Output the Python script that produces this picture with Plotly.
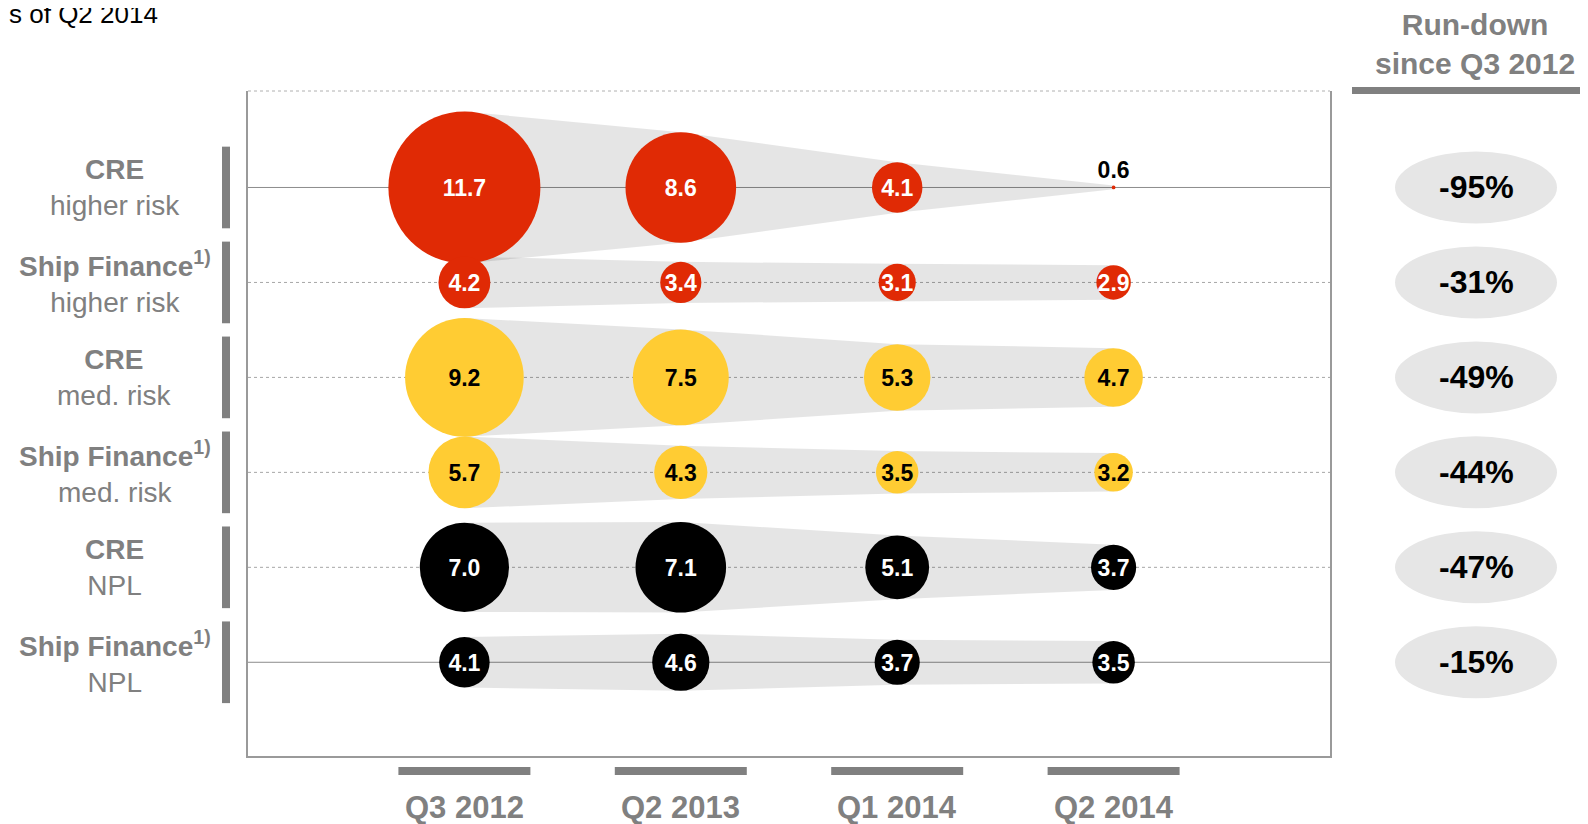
import plotly.graph_objects as go

# ---------------- data ----------------
quarters = ["Q3 2012", "Q2 2013", "Q1 2014", "Q2 2014"]
row_titles = ["CRE", "Ship Finance<sup>1)</sup>", "CRE",
              "Ship Finance<sup>1)</sup>", "CRE", "Ship Finance<sup>1)</sup>"]
row_subtitles = ["higher risk", "higher risk", "med. risk", "med. risk", "NPL", "NPL"]

cre_higher_risk = [11.7, 8.6, 4.1, 0.6]
ship_higher_risk = [4.2, 3.4, 3.1, 2.9]
cre_med_risk = [9.2, 7.5, 5.3, 4.7]
ship_med_risk = [5.7, 4.3, 3.5, 3.2]
cre_npl = [7.0, 7.1, 5.1, 3.7]
ship_npl = [4.1, 4.6, 3.7, 3.5]

rundown_labels = ["-95%", "-31%", "-49%", "-44%", "-47%", "-15%"]

series = [cre_higher_risk, ship_higher_risk, cre_med_risk,
          ship_med_risk, cre_npl, ship_npl]

RED = "#E02A05"
YELLOW = "#FFCC33"
BLACK = "#000000"
GREY = "#808080"
row_colors = [RED, RED, YELLOW, YELLOW, BLACK, BLACK]
label_colors = ["white", "white", "black", "black", "white", "white"]

FONT = "Arial, Liberation Sans, sans-serif"

# ---------------- geometry ----------------
OFF = 8                      # page body margin of the html page
W, H = 1588 - OFF, 824 - OFF  # figure size so that it fits the window
ML, MR, MT, MB = 248 - OFF, 258, 91 - OFF, 68
PLOT_W = W - ML - MR
PLOT_H = H - MT - MB
X_RANGE = [-1.0, 4.0]
Y_RANGE = [5.987, -1.016]  # reversed: first row on top
PX_PER_Y = PLOT_H / (Y_RANGE[0] - Y_RANGE[1])


def diameter_px(v):
    # bubble diameter scale (px)
    return 13.36 * (v - 0.32)


def px_x_to_paper(px):
    # px: page x coordinate
    return (px - OFF - ML) / PLOT_W


def px_y_to_paper(py):
    # py: page y coordinate
    return (H - MB - (py - OFF)) / PLOT_H


cols = list(range(len(quarters)))

fig = go.Figure()

# grey run-down bands (semi-transparent so grid lines show through)
for r, vals in enumerate(series):
    rad = [diameter_px(v) / 2 / PX_PER_Y for v in vals]
    xs = cols + cols[::-1]
    ys = [r - d for d in rad] + [r + d for d in rad[::-1]]
    fig.add_trace(go.Scatter(
        x=xs, y=ys, mode="lines", fill="toself",
        fillcolor="rgba(0,0,0,0.10)", line=dict(width=0),
        hoverinfo="skip", showlegend=False))

# bubbles
for r, vals in enumerate(series):
    sizes = [diameter_px(v) for v in vals]
    fig.add_trace(go.Scatter(
        x=cols, y=[r] * len(vals), mode="markers",
        marker=dict(size=sizes, sizemode="diameter", color=row_colors[r],
                    line=dict(width=0), opacity=1),
        hoverinfo="skip", showlegend=False, cliponaxis=False))

# bubble value labels (slightly nudged to sit optically centred)
for r, vals in enumerate(series):
    sizes = [diameter_px(v) for v in vals]
    small = [s < 20 for s in sizes]
    positions = ["top center" if sm else "middle center" for sm in small]
    tcolors = ["black" if sm else label_colors[r] for sm in small]
    ys = [r + (-4 if sm else 3) / PX_PER_Y for sm in small]
    fig.add_trace(go.Scatter(
        x=cols, y=ys, mode="text",
        text=[f"<b>{v:.1f}</b>" for v in vals],
        textposition=positions,
        textfont=dict(family=FONT, size=23, color=tcolors),
        hoverinfo="skip", showlegend=False, cliponaxis=False))

shapes = []
annotations = []

# horizontal row lines
for r in range(len(series)):
    solid = r in (0, len(series) - 1)
    shapes.append(dict(
        type="line", xref="paper", yref="y", x0=0, x1=1, y0=r, y1=r,
        line=dict(color="#8c8c8c" if solid else "#a6a6a6", width=1,
                  dash="solid" if solid else "dot"),
        layer="below"))

# dotted top border
shapes.append(dict(type="line", xref="paper", yref="paper", x0=0, x1=1, y0=1, y1=1,
                   line=dict(color="#b0b0b0", width=1, dash="dot"), layer="below"))

# left label bars and labels
for r in range(len(series)):
    shapes.append(dict(
        type="rect", xref="paper", yref="y",
        x0=px_x_to_paper(222), x1=px_x_to_paper(230),
        y0=r - 0.43, y1=r + 0.43,
        fillcolor=GREY, line=dict(width=0)))
    annotations.append(dict(
        xref="paper", yref="y", x=px_x_to_paper(114.5), y=r,
        xanchor="center", yanchor="middle", align="center", showarrow=False,
        text=f"<b>{row_titles[r]}</b><br>{row_subtitles[r]}",
        font=dict(family=FONT, size=28, color=GREY)))

# bottom quarter bars and labels
for c, q in enumerate(quarters):
    shapes.append(dict(
        type="rect", xref="x", yref="paper",
        x0=c - 0.305, x1=c + 0.305,
        y0=px_y_to_paper(775), y1=px_y_to_paper(767),
        fillcolor=GREY, line=dict(width=0)))
    annotations.append(dict(
        xref="x", yref="paper", x=c, y=px_y_to_paper(807),
        xanchor="center", yanchor="middle", showarrow=False,
        text=f"<b>{q}</b>",
        font=dict(family=FONT, size=31, color=GREY)))

# right column: header, underline, ellipses with run-down figures
annotations.append(dict(
    xref="paper", yref="paper", x=px_x_to_paper(1475), y=px_y_to_paper(44),
    xanchor="center", yanchor="middle", align="center", showarrow=False,
    text="<b>Run-down</b><br><b>since Q3 2012</b>",
    font=dict(family=FONT, size=30, color=GREY)))
shapes.append(dict(
    type="rect", xref="paper", yref="paper",
    x0=px_x_to_paper(1352), x1=px_x_to_paper(1592),
    y0=px_y_to_paper(94), y1=px_y_to_paper(87),
    fillcolor=GREY, line=dict(width=0)))
for r, lab in enumerate(rundown_labels):
    shapes.append(dict(
        type="circle", xref="paper", yref="y",
        x0=px_x_to_paper(1395), x1=px_x_to_paper(1557),
        y0=r - 36 / PX_PER_Y, y1=r + 36 / PX_PER_Y,
        fillcolor="#e6e6e6", line=dict(width=0)))
    annotations.append(dict(
        xref="paper", yref="y", x=px_x_to_paper(1476), y=r,
        xanchor="center", yanchor="middle", showarrow=False,
        text=f"<b>{lab}</b>",
        font=dict(family=FONT, size=32, color="black")))

# top-left (cropped) note
annotations.append(dict(
    xref="paper", yref="paper", x=px_x_to_paper(OFF - 1), y=px_y_to_paper(31),
    xanchor="left", yanchor="bottom", showarrow=False,
    text="s of Q2 2014",
    font=dict(family=FONT, size=26, color="black")))

fig.update_layout(
    width=W, height=H,
    margin=dict(l=ML, r=MR, t=MT, b=MB, pad=0),
    paper_bgcolor="white", plot_bgcolor="white",
    showlegend=False,
    shapes=shapes, annotations=annotations,
    xaxis=dict(range=X_RANGE, showgrid=False, zeroline=False,
               showticklabels=False, ticks="", showline=True,
               linecolor="#9a9a9a", linewidth=2, fixedrange=True),
    yaxis=dict(range=Y_RANGE, showgrid=False, zeroline=False,
               showticklabels=False, ticks="", showline=True, mirror=True,
               linecolor="#9a9a9a", linewidth=2, fixedrange=True),
)

fig.write_html("out.html")
